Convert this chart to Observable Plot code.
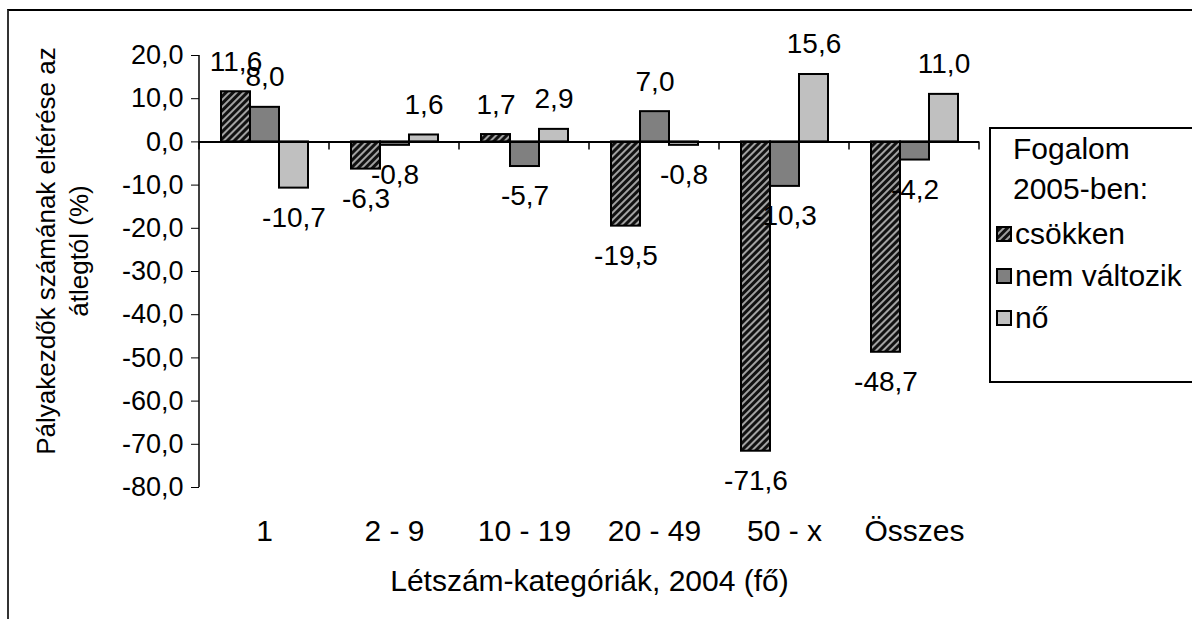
<!DOCTYPE html>
<html>
<head>
<meta charset="utf-8">
<script src="https://cdn.jsdelivr.net/npm/d3@7"></script>
<script src="https://cdn.jsdelivr.net/npm/@observablehq/plot@0.6"></script>
<style>
  body { margin: 0; background: #fff; font-family: "Liberation Sans", Arial, sans-serif; }
  #wrap { position: relative; width: 1192px; height: 619px; overflow: hidden; background: #fff; }
  #chart { position: absolute; left: 0; top: 0; }
  #frame { position: absolute; left: 7px; top: 9px; width: 1300px; height: 900px;
           border-top: 2px solid #000; border-left: 2px solid #333; }
  #ytitle { position: absolute; left: -147px; top: 218px; width: 420px; height: 66px;
            transform: rotate(-90deg); transform-origin: 50% 50%; text-align: center;
            font-size: 26px; line-height: 33px; color: #000; white-space: pre; }
  #legend { position: absolute; left: 989px; top: 127px; width: 260px; height: 256px;
            border: 2px solid #000; box-sizing: border-box; font-size: 30px; color: #000; background: #fff; }
  #legend .t { position: absolute; left: 22px; white-space: nowrap; line-height: 1; }
  #legend .it { position: absolute; left: 5px; white-space: nowrap; display: flex; align-items: center; line-height: 1; }
  #legend .it svg { margin-right: 3px; }
</style>
</head>
<body>
<svg width="0" height="0" style="position:absolute">
  <defs>
    <pattern id="hatch" width="5" height="5" patternUnits="userSpaceOnUse" patternTransform="rotate(45)">
      <rect width="5" height="5" fill="#111"></rect>
      <line x1="2" y1="0" x2="2" y2="5" stroke="#e0e0e0" stroke-width="1.4"></line>
    </pattern>
  </defs>
</svg>
<div id="wrap">
  <div id="chart"></div>
  <div id="frame"></div>
  <div id="ytitle"></div>
  <div id="legend"></div>
</div>
<script>
// ---- data ----
const categories = ["1", "2 - 9", "10 - 19", "20 - 49", "50 - x", "Összes"];
const seriesNames = ["csökken", "nem változik", "nő"];
const csokken = [11.6, -6.3, 1.7, -19.5, -71.6, -48.7];
const nemValtozik = [8.0, -0.8, -5.7, 7.0, -10.3, -4.2];
const no = [-10.7, 1.6, 2.9, -0.8, 15.6, 11.0];
const seriesFills = ["url(#hatch)", "#808080", "#c0c0c0"];
const yTicks = [-80, -70, -60, -50, -40, -30, -20, -10, 0, 10, 20];
const legendTitle = ["Fogalom", "2005-ben:"];
const xTitle = "Létszám-kategóriák, 2004 (fő)";
const yTitle = "Pályakezdők számának eltérése az\nátlegtól (%)";

const seriesValues = [csokken, nemValtozik, no];
const data = [];
categories.forEach((c, i) => {
  seriesNames.forEach((s, j) => data.push({cat: c, series: s, value: seriesValues[j][i]}));
});
const fmt = v => v.toFixed(1).replace(".", ",");

const chart = Plot.plot({
  width: 1192,
  height: 619,
  marginTop: 55,
  marginBottom: 132,
  marginLeft: 198,
  marginRight: 212,
  style: {fontFamily: "'Liberation Sans', Arial, sans-serif", fontSize: "27px", color: "#000", background: "transparent"},
  fx: {domain: categories, padding: 0},
  x: {domain: seriesNames, axis: null, paddingInner: 0, paddingOuter: 0.72},
  y: {domain: [-80, 20]},
  color: {domain: seriesNames, range: seriesFills},
  marks: [
    Plot.axisY({ticks: yTicks, tickFormat: fmt, tickSize: 8, tickPadding: 8, label: null}),
    Plot.axisFx({anchor: "bottom", tickSize: 0, tickPadding: 32, fontSize: 30,
                 label: xTitle, labelAnchor: "center", labelOffset: 103}),
    Plot.barY(data, {fx: "cat", x: "series", y: "value", fill: "series", stroke: "#000", strokeWidth: 2}),
    Plot.ruleY([0], {stroke: "#000", strokeWidth: 2}),
    Plot.text(data, {filter: d => d.value >= 0, fx: "cat", x: "series", y: "value", text: d => fmt(d.value), dy: -30, fontSize: 28, fill: "#000"}),
    Plot.text(data, {filter: d => d.value < 0, fx: "cat", x: "series", y: "value", text: d => fmt(d.value), dy: 30, fontSize: 28, fill: "#000"})
  ]
});

// category boundary ticks and y axis line, positioned with Plot's own scales
const fxS = chart.scale("fx"), yS = chart.scale("y");
const y0 = yS.apply(0);
const bounds = categories.map(c => fxS.apply(c));
bounds.push(fxS.apply(categories[categories.length - 1]) + fxS.bandwidth);
const g = d3.select(chart).append("g").attr("stroke", "#000").attr("stroke-width", 1.5);
g.selectAll("line.b").data(bounds).join("line").attr("class", "b")
  .attr("x1", d => d).attr("x2", d => d).attr("y1", y0).attr("y2", y0 + 8);
g.append("line").attr("x1", bounds[0]).attr("x2", bounds[0])
  .attr("y1", yS.apply(yTicks[yTicks.length - 1])).attr("y2", yS.apply(yTicks[0]));

document.getElementById("chart").append(chart);
document.getElementById("ytitle").textContent = yTitle;

// legend
const lg = document.getElementById("legend");
legendTitle.forEach((t, i) => {
  const d = document.createElement("div");
  d.className = "t"; d.textContent = t; d.style.top = (5 + i * 40) + "px";
  lg.append(d);
});
seriesNames.forEach((s, i) => {
  const d = document.createElement("div");
  d.className = "it"; d.style.top = (90 + i * 42) + "px";
  d.innerHTML = `<svg width="16" height="16"><rect x="1" y="1" width="14" height="14" fill="${seriesFills[i]}" stroke="#000" stroke-width="2"></rect></svg><span>${s}</span>`;
  lg.append(d);
});
</script>
</body>
</html>
